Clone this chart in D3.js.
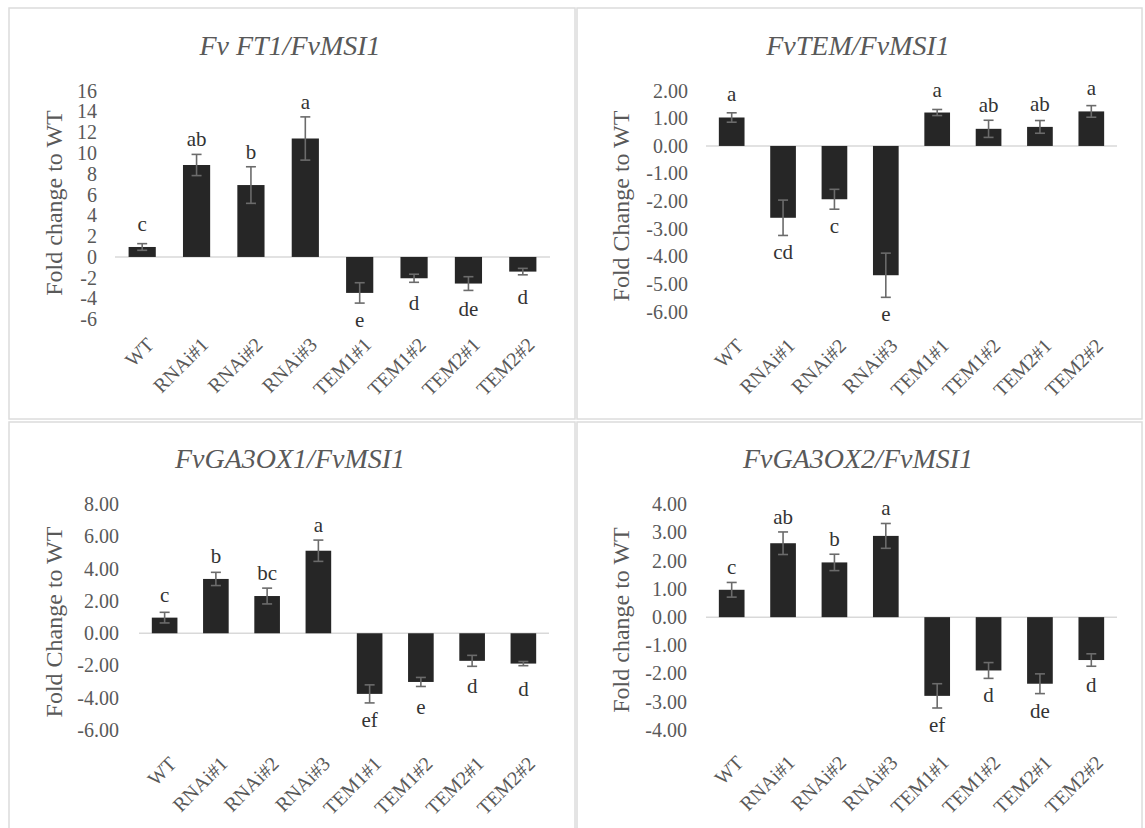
<!DOCTYPE html>
<html>
<head>
<meta charset="utf-8">
<script src="https://cdn.jsdelivr.net/npm/d3@7"></script>
<style>
  html, body { margin: 0; padding: 0; background: #ffffff; }
  svg { display: block; }
</style>
</head>
<body>
<svg id="chart" width="1145" height="828"></svg>
<script>
// Genotypes shown on every panel
const categories = ["WT", "RNAi#1", "RNAi#2", "RNAi#3", "TEM1#1", "TEM1#2", "TEM2#1", "TEM2#2"];

// Fv FT1 / FvMSI1
const ft1Mean    = [0.96, 8.85, 6.92, 11.40, -3.46, -2.05, -2.56, -1.41];
const ft1Err     = [0.32, 1.02, 1.76, 2.08, 0.98, 0.39, 0.66, 0.31];
const ft1Letters = ["c", "ab", "b", "a", "e", "d", "de", "d"];
const ft1Ticks   = [-6, -4, -2, 0, 2, 4, 6, 8, 10, 12, 14, 16];

// FvTEM / FvMSI1
const temMean    = [1.03, -2.60, -1.93, -4.68, 1.21, 0.62, 0.69, 1.25];
const temErr     = [0.17, 0.64, 0.36, 0.80, 0.11, 0.31, 0.23, 0.21];
const temLetters = ["a", "cd", "c", "e", "a", "ab", "ab", "a"];
const temTicks   = [-6, -5, -4, -3, -2, -1, 0, 1, 2];

// FvGA3OX1 / FvMSI1
const ga1Mean    = [0.97, 3.37, 2.31, 5.12, -3.76, -3.02, -1.71, -1.88];
const ga1Err     = [0.33, 0.41, 0.49, 0.66, 0.56, 0.28, 0.34, 0.13];
const ga1Letters = ["c", "b", "bc", "a", "ef", "e", "d", "d"];
const ga1Ticks   = [-6, -4, -2, 0, 2, 4, 6, 8];

// FvGA3OX2 / FvMSI1
const ga2Mean    = [0.97, 2.62, 1.94, 2.88, -2.79, -1.89, -2.36, -1.52];
const ga2Err     = [0.26, 0.40, 0.29, 0.44, 0.43, 0.28, 0.35, 0.22];
const ga2Letters = ["c", "ab", "b", "a", "ef", "d", "de", "d"];
const ga2Ticks   = [-4, -3, -2, -1, 0, 1, 2, 3, 4];

// hyphen-minus for negative tick values
const locale = d3.formatLocale({ decimal: ".", thousands: ",", grouping: [3], currency: ["", ""], minus: "-" });
const serif = "'Liberation Serif', 'Times New Roman', serif";

const panels = [
  { title: "Fv FT1/FvMSI1", yTitle: "Fold change to WT", mean: ft1Mean, err: ft1Err, letters: ft1Letters,
    ticks: ft1Ticks, fmt: locale.format("d"),
    frame: [9, 8, 575, 419], plotX: [115, 550], plotY: [319.3, 90.7], tickRight: 97,
    yTitlePos: [54, 203], titlePos: [290, 55], labelY: 337 },
  { title: "FvTEM/FvMSI1", yTitle: "Fold Change to WT", mean: temMean, err: temErr, letters: temLetters,
    ticks: temTicks, fmt: locale.format(".2f"),
    frame: [577, 8, 1142, 419], plotX: [706, 1117], plotY: [311.7, 90.7], tickRight: 688,
    yTitlePos: [621, 206], titlePos: [858, 55], labelY: 338 },
  { title: "FvGA3OX1/FvMSI1", yTitle: "Fold Change to WT", mean: ga1Mean, err: ga1Err, letters: ga1Letters,
    ticks: ga1Ticks, fmt: locale.format(".2f"),
    frame: [9, 422, 575, 840], plotX: [139, 549], plotY: [730, 504.3], tickRight: 119,
    yTitlePos: [54, 622], titlePos: [290, 468], labelY: 756 },
  { title: "FvGA3OX2/FvMSI1", yTitle: "Fold change to WT", mean: ga2Mean, err: ga2Err, letters: ga2Letters,
    ticks: ga2Ticks, fmt: locale.format(".2f"),
    frame: [577, 422, 1142, 840], plotX: [706, 1117], plotY: [730, 504.3], tickRight: 687,
    yTitlePos: [621, 620], titlePos: [858, 468], labelY: 755 }
];

const svg = d3.select("#chart").attr("font-family", serif);
svg.append("rect").attr("width", 1145).attr("height", 828).attr("fill", "#ffffff");

const textGray = "#595959";

panels.forEach(p => {
  const g = svg.append("g");
  const [fx0, fy0, fx1, fy1] = p.frame;

  // panel frame
  g.append("rect")
    .attr("x", fx0).attr("y", fy0)
    .attr("width", fx1 - fx0).attr("height", fy1 - fy0)
    .attr("fill", "none").attr("stroke", "#dcdcdc").attr("stroke-width", 1.5);

  const x = d3.scaleBand().domain(categories).range(p.plotX).padding(0);
  const y = d3.scaleLinear().domain([d3.min(p.ticks), d3.max(p.ticks)]).range(p.plotY);
  const barW = x.bandwidth() * 0.5;

  // title
  g.append("text")
    .attr("x", p.titlePos[0]).attr("y", p.titlePos[1])
    .attr("text-anchor", "middle")
    .attr("font-family", serif)
    .attr("font-size", 28).attr("font-style", "italic")
    .attr("fill", textGray)
    .text(p.title);

  // y axis tick labels
  const yAxis = d3.axisLeft(y).tickValues(p.ticks).tickFormat(p.fmt)
    .tickSize(0).tickPadding(p.plotX[0] - p.tickRight);
  const ya = g.append("g").attr("transform", `translate(${p.plotX[0]},0)`).call(yAxis)
    .attr("font-family", serif);
  ya.select(".domain").remove();
  ya.selectAll("text")
    .attr("font-size", 20).attr("font-family", serif)
    .attr("fill", textGray);

  // y axis title
  g.append("text")
    .attr("transform", `translate(${p.yTitlePos[0]},${p.yTitlePos[1]}) rotate(-90)`)
    .attr("text-anchor", "middle").attr("dy", "0.35em")
    .attr("font-family", serif)
    .attr("font-size", 24).attr("fill", textGray)
    .text(p.yTitle);

  // zero line
  g.append("line")
    .attr("x1", p.plotX[0]).attr("x2", p.plotX[1])
    .attr("y1", y(0)).attr("y2", y(0))
    .attr("stroke", "#d9d9d9").attr("stroke-width", 1.5);

  const rows = categories.map((c, i) => ({ c, v: p.mean[i], e: p.err[i], l: p.letters[i] }));

  // bars
  g.selectAll("rect.bar").data(rows).enter().append("rect")
    .attr("class", "bar")
    .attr("x", d => x(d.c) + (x.bandwidth() - barW) / 2)
    .attr("width", barW)
    .attr("y", d => Math.min(y(d.v), y(0)))
    .attr("height", d => Math.abs(y(d.v) - y(0)))
    .attr("fill", "#262626");

  // error bars
  const eb = g.selectAll("g.err").data(rows).enter().append("g").attr("class", "err")
    .attr("stroke", "#6b6b6b").attr("stroke-width", 1.6);
  const cx = d => x(d.c) + x.bandwidth() / 2;
  eb.append("line")
    .attr("x1", cx).attr("x2", cx)
    .attr("y1", d => y(d.v - d.e)).attr("y2", d => y(d.v + d.e));
  eb.append("line")
    .attr("x1", d => cx(d) - 5).attr("x2", d => cx(d) + 5)
    .attr("y1", d => y(d.v + d.e)).attr("y2", d => y(d.v + d.e));
  eb.append("line")
    .attr("x1", d => cx(d) - 5).attr("x2", d => cx(d) + 5)
    .attr("y1", d => y(d.v - d.e)).attr("y2", d => y(d.v - d.e));

  // significance letters
  g.selectAll("text.letter").data(rows).enter().append("text")
    .attr("class", "letter")
    .attr("x", cx)
    .attr("y", d => d.v >= 0
      ? Math.min(y(d.v) - 16, y(d.v + d.e) - 8)
      : Math.max(y(d.v) + 32, y(d.v - d.e) + 24))
    .attr("text-anchor", "middle")
    .attr("font-family", serif)
    .attr("font-size", 21).attr("fill", "#333333")
    .text(d => d.l);

  // category labels
  const xAxis = d3.axisBottom(x).tickSize(0);
  const xa = g.append("g").attr("transform", `translate(0,${p.labelY})`).call(xAxis)
    .attr("font-family", serif);
  xa.select(".domain").remove();
  xa.selectAll("text")
    .attr("x", 0).attr("y", 0).attr("dy", null)
    .attr("text-anchor", "end")
    .attr("transform", "translate(13,9) rotate(-45)")
    .attr("font-size", 20).attr("font-family", serif)
    .attr("fill", textGray);
});
</script>
</body>
</html>
